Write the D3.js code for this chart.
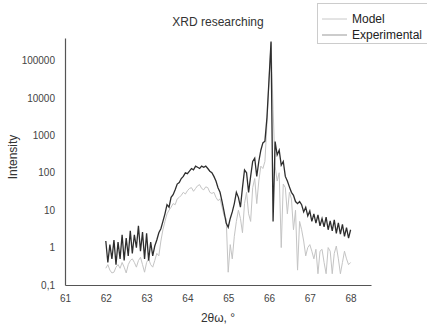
<!DOCTYPE html>
<html>
<head>
<meta charset="utf-8">
<script src="https://cdn.jsdelivr.net/npm/d3@7"></script>
<style>
  body { margin: 0; background: #fff; }
  text { font-family: "Liberation Sans", Arial, sans-serif; }
</style>
</head>
<body>
<svg id="chart"></svg>
<script>
// x grid: 62.00 .. 68.00, step 0.05
const X_START = 62;
const X_STEP = 0.05;

const MODEL = [
    0.28, 0.35, 0.25, 0.21, 0.22, 0.3, 0.35, 0.28, 0.4, 0.3,
    0.21, 0.35, 0.45, 0.5, 0.4, 0.3, 0.45, 0.55, 0.35, 0.22,
    0.4, 0.5, 0.35, 0.3, 0.45, 0.7, 0.6, 1.5, 3, 5,
    8, 10, 12, 15, 14, 20, 22, 25, 30, 27,
    33, 38, 40, 32, 38, 45, 48, 38, 35, 42,
    40, 30, 28, 30, 22, 18, 20, 12, 7, 6,
    0.22, 1.2, 0.5, 2, 5, 10, 6, 2.5, 15, 30,
    8, 5, 40, 70, 15, 60, 150, 130, 200, 2000,
    30000, 300000, 5000, 150, 60, 100, 1, 50, 40, 8,
    30, 20, 3, 10, 0.25, 5, 3, 1.5, 0.6, 1,
    1.2, 0.8, 0.5, 0.9, 0.2, 0.8, 0.9, 0.4, 0.2, 1,
    0.8, 0.2, 0.7, 1.1, 0.5, 0.2, 0.4, 0.8, 0.5, 0.35,
    0.4
];

const EXPERIMENTAL = [
    1.5, 0.4, 1.2, 0.5, 1.6, 0.35, 1.4, 0.5, 2.2, 0.45,
    1.8, 0.6, 2.8, 0.7, 2.2, 1.0, 3.8, 0.8, 2.6, 0.5,
    2.4, 0.45, 1.4, 0.6, 1.1, 1.6, 2.5, 3.2, 5, 8,
    14, 12, 22, 26, 35, 50, 55, 70, 80, 100,
    95, 110, 130, 120, 150, 140, 130, 150, 140, 150,
    130, 110, 100, 80, 60, 40, 30, 17, 9, 4.5,
    3.5, 6, 9, 15, 30, 22, 12, 40, 119, 100,
    30, 80, 200, 244, 80, 200, 400, 627, 700, 3000,
    30000, 320000, 5, 680, 300, 400, 160, 200, 80, 60,
    42, 30, 25, 17, 15, 17, 14, 9, 12, 7,
    9.5, 5, 8, 4.5, 7.5, 3.8, 6, 3.6, 6.5, 3,
    5.2, 2.8, 5.5, 2.4, 4.6, 2.3, 4.2, 2, 3.4, 1.8,
    3
];

const X_TICKS = [61, 62, 63, 64, 65, 66, 67, 68];
const Y_TICKS = [0.1, 1, 10, 100, 1000, 10000, 100000];

const WIDTH = 427;
const HEIGHT = 324;

function toPoints(values){
    return values.map(function(v, i){ return [X_START + i * X_STEP, v]; });
}

let svg = d3.select("#chart")
    .attr("width", WIDTH)
    .attr("height", HEIGHT);

let xScale = d3.scaleLinear()
    .domain([61, 68.5])
    .range([65, 371]);

let yScale = d3.scaleLog()
    .domain([0.1, 400000])
    .range([285, 38]);

let line = d3.line()
    .x(function(d){ return xScale(d[0]); })
    .y(function(d){ return yScale(d[1]); });

// series
svg.append("path")
    .attr("d", line(toPoints(MODEL)))
    .attr("fill", "none")
    .attr("stroke", "#c4c4c4")
    .attr("stroke-width", 1);

svg.append("path")
    .attr("d", line(toPoints(EXPERIMENTAL)))
    .attr("fill", "none")
    .attr("stroke", "#2e2e2e")
    .attr("stroke-width", 1.3);

// axes
let xAxis = svg.append("g")
    .attr("transform", "translate(0,285)")
    .call(d3.axisBottom(xScale).tickValues(X_TICKS).tickSize(0).tickPadding(10)
        .tickFormat(d3.format("d")));

let yAxis = svg.append("g")
    .attr("transform", "translate(65,0)")
    .call(d3.axisLeft(yScale).tickValues(Y_TICKS).tickSize(0).tickPadding(10)
        .tickFormat(function(d){ return d < 1 ? "0,1" : d3.format("d")(d); }));

[xAxis, yAxis].forEach(function(ax){
    ax.select(".domain").attr("stroke", "#555").attr("stroke-width", 1.2);
    ax.selectAll("text")
        .attr("fill", "#444")
        .attr("font-size", "10px")
        .attr("font-family", "Liberation Sans, Arial, sans-serif");
});

// title and labels
svg.append("text")
    .attr("x", 218).attr("y", 26)
    .attr("text-anchor", "middle")
    .attr("font-size", "12px")
    .attr("fill", "#333")
    .text("XRD researching");

svg.append("text")
    .attr("x", 218).attr("y", 322)
    .attr("text-anchor", "middle")
    .attr("font-size", "12px")
    .attr("fill", "#333")
    .text("2θω, °");

svg.append("text")
    .attr("transform", "translate(17,157) rotate(-90)")
    .attr("text-anchor", "middle")
    .attr("font-size", "12px")
    .attr("fill", "#333")
    .text("Intensity");

// legend
let legend = svg.append("g");
legend.append("rect")
    .attr("x", 317.5).attr("y", 3.5)
    .attr("width", 112).attr("height", 40)
    .attr("fill", "#fff")
    .attr("stroke", "#ccc");

const LEGEND = [
    { label: "Model", color: "#c8c8c8", y: 19 },
    { label: "Experimental", color: "#999", y: 35 }
];

legend.selectAll("line")
    .data(LEGEND)
    .enter()
    .append("line")
    .attr("x1", 322).attr("x2", 347)
    .attr("y1", function(d){ return d.y; })
    .attr("y2", function(d){ return d.y; })
    .attr("stroke", function(d){ return d.color; });

legend.selectAll("text")
    .data(LEGEND)
    .enter()
    .append("text")
    .attr("x", 352)
    .attr("y", function(d){ return d.y + 4; })
    .attr("font-size", "12px")
    .attr("fill", "#222")
    .text(function(d){ return d.label; });
</script>
</body>
</html>
